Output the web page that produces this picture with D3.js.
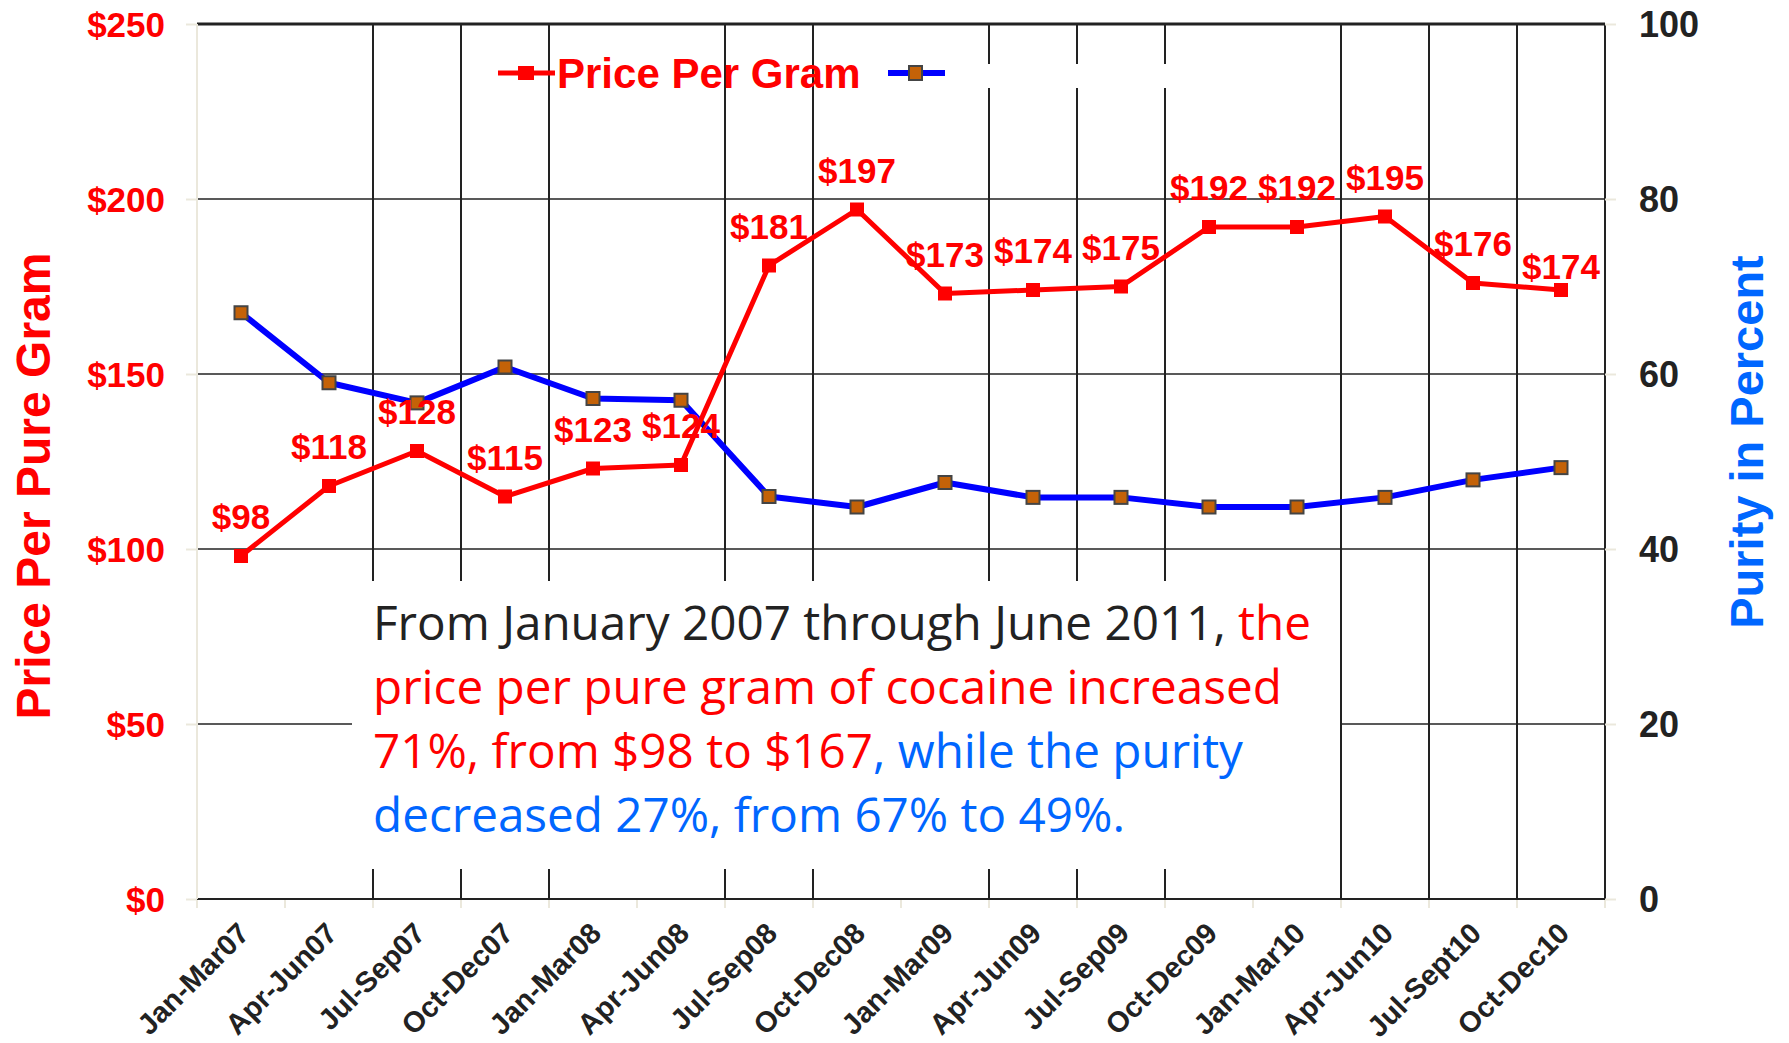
<!DOCTYPE html>
<html lang="en">
<head>
<meta charset="utf-8">
<title>Price per pure gram vs purity</title>
<script src="https://cdn.jsdelivr.net/npm/d3@7"></script>
<style>
  body { margin: 0; background: #fff; }
  svg { display: block; }
  .lbl { font-family: "Liberation Sans", Arial, sans-serif; font-weight: bold; }
  .note { font-family: "Open Sans", sans-serif; font-size: 48px; }
</style>
</head>
<body>
<script>
var categories = ["Jan-Mar07", "Apr-Jun07", "Jul-Sep07", "Oct-Dec07", "Jan-Mar08", "Apr-Jun08",
  "Jul-Sep08", "Oct-Dec08", "Jan-Mar09", "Apr-Jun09", "Jul-Sep09", "Oct-Dec09",
  "Jan-Mar10", "Apr-Jun10", "Jul-Sept10", "Oct-Dec10"];
var price = [98, 118, 128, 115, 123, 124, 181, 197, 173, 174, 175, 192, 192, 195, 176, 174];
var purity = [67, 59, 56.7, 60.8, 57.2, 57, 46, 44.8, 47.6, 45.9, 45.9, 44.8, 44.8, 45.9, 47.9, 49.3];
var priceTicks = [0, 50, 100, 150, 200, 250];
var purityTicks = [0, 20, 40, 60, 80, 100];
// band boundaries that carry a vertical grid line (left edge of these categories)
var gridAt = ["Jul-Sep07", "Oct-Dec07", "Jan-Mar08", "Jul-Sep08", "Oct-Dec08", "Apr-Jun09",
  "Jul-Sep09", "Oct-Dec09", "Apr-Jun10", "Jul-Sept10", "Oct-Dec10"];
var priceName = "Price Per Gram";
var leftTitle = "Price Per Pure Gram";
var rightTitle = "Purity in Percent";
var noteLines = [
  [["From January 2007 through June 2011, ", "#222"], ["the", "#ff0000"]],
  [["price per pure gram of cocaine increased", "#ff0000"]],
  [["71%, from $98 to $167", "#ff0000"], [", while the purity", "#0066ff"]],
  [["decreased 27%, from 67% to 49%.", "#0066ff"]]
];

var W = 1789, H = 1043;
var plot = { left: 197, right: 1605, top: 24, bottom: 899 };

var svg = d3.select("body").append("svg")
  .attr("width", W)
  .attr("height", H);

var x = d3.scaleBand().domain(categories).range([plot.left, plot.right]);
var y = d3.scaleLinear().domain([0, 250]).range([plot.bottom, plot.top]);
var y2 = d3.scaleLinear().domain([0, 100]).range([plot.bottom, plot.top]);
var cx = function(d) { return x(d) + x.bandwidth() / 2; };

// horizontal grid
svg.append("g").selectAll("line")
  .data(priceTicks.slice(1, -1))
  .enter().append("line")
  .attr("x1", plot.left).attr("x2", plot.right)
  .attr("y1", function(d) { return y(d); }).attr("y2", function(d) { return y(d); })
  .attr("stroke", "#222").attr("stroke-width", 1.6);

// vertical grid
svg.append("g").selectAll("line")
  .data(gridAt)
  .enter().append("line")
  .attr("x1", function(d) { return x(d); }).attr("x2", function(d) { return x(d); })
  .attr("y1", plot.top).attr("y2", plot.bottom)
  .attr("stroke", "#222").attr("stroke-width", 2);

// frame
svg.append("line").attr("x1", plot.left).attr("x2", plot.right)
  .attr("y1", plot.top).attr("y2", plot.top)
  .attr("stroke", "#222").attr("stroke-width", 3);
svg.append("line").attr("x1", plot.left).attr("x2", plot.right)
  .attr("y1", plot.bottom).attr("y2", plot.bottom)
  .attr("stroke", "#222").attr("stroke-width", 2);
svg.append("line").attr("x1", plot.right).attr("x2", plot.right)
  .attr("y1", plot.top).attr("y2", plot.bottom)
  .attr("stroke", "#222").attr("stroke-width", 2);

// axes (pale lines and ticks)
var left = svg.append("g")
  .attr("transform", "translate(" + plot.left + ",0)")
  .call(d3.axisLeft(y).tickValues(priceTicks).tickSize(11).tickFormat(""));
var right = svg.append("g")
  .attr("transform", "translate(" + plot.right + ",0)")
  .call(d3.axisRight(y2).tickValues(purityTicks).tickSize(11).tickFormat(""));
[left, right].forEach(function(g) {
  g.selectAll("path").attr("stroke", "#ebe8dc").attr("stroke-width", 2);
  g.selectAll("line").attr("stroke", "#ebe8dc").attr("stroke-width", 2);
});
left.select("path").attr("d", "M0," + plot.top + "V" + plot.bottom);
right.select("path").remove();

// bottom ticks at band boundaries
svg.append("g").selectAll("line")
  .data(categories.concat([null]))
  .enter().append("line")
  .attr("x1", function(d) { return d ? x(d) : plot.right; })
  .attr("x2", function(d) { return d ? x(d) : plot.right; })
  .attr("y1", plot.bottom + 1).attr("y2", plot.bottom + 9)
  .attr("stroke", "#ebe8dc").attr("stroke-width", 2);

// tick labels
svg.append("g").selectAll("text")
  .data(priceTicks)
  .enter().append("text")
  .attr("class", "lbl")
  .attr("x", plot.left - 32)
  .attr("y", function(d) { return y(d); })
  .attr("dy", "0.36em")
  .attr("text-anchor", "end")
  .attr("font-size", 35)
  .attr("fill", "#ff0000")
  .text(function(d) { return "$" + d; });

svg.append("g").selectAll("text")
  .data(purityTicks)
  .enter().append("text")
  .attr("class", "lbl")
  .attr("x", plot.right + 34)
  .attr("y", function(d) { return y2(d); })
  .attr("dy", "0.36em")
  .attr("font-size", 36)
  .attr("fill", "#222")
  .text(function(d) { return d; });

svg.append("g").selectAll("text")
  .data(categories)
  .enter().append("text")
  .attr("class", "lbl")
  .attr("font-size", 29)
  .attr("fill", "#222")
  .attr("text-anchor", "end")
  .attr("transform", function(d) { return "translate(" + (cx(d) + 10) + "," + (plot.bottom + 36) + ") rotate(-45)"; })
  .text(function(d) { return d; });

// axis titles
svg.append("text")
  .attr("class", "lbl")
  .attr("font-size", 48)
  .attr("fill", "#ff0000")
  .attr("text-anchor", "middle")
  .attr("transform", "translate(50,486) rotate(-90)")
  .text(leftTitle);
svg.append("text")
  .attr("class", "lbl")
  .attr("font-size", 47)
  .attr("fill", "#0066ff")
  .attr("text-anchor", "middle")
  .attr("transform", "translate(1763,442) rotate(-90)")
  .text(rightTitle);

// note box (covers the grid)
svg.append("rect")
  .attr("x", 352).attr("y", 581)
  .attr("width", x(categories[13]) - 353).attr("height", 288)
  .attr("fill", "#fff");

// legend
var lg = svg.append("g");
lg.append("line").attr("x1", 498).attr("x2", 555).attr("y1", 73).attr("y2", 73)
  .attr("stroke", "#ff0000").attr("stroke-width", 5);
lg.append("rect").attr("x", 518).attr("y", 66).attr("width", 16).attr("height", 14)
  .attr("fill", "#ff0000");
lg.append("text").attr("class", "lbl").attr("x", 557).attr("y", 88)
  .attr("font-size", 42).attr("fill", "#ff0000").text(priceName);
lg.append("line").attr("x1", 888).attr("x2", 945).attr("y1", 73).attr("y2", 73)
  .attr("stroke", "#0000ff").attr("stroke-width", 6);
lg.append("rect").attr("x", 909).attr("y", 66).attr("width", 13).attr("height", 14)
  .attr("fill", "#c46208").attr("stroke", "#444").attr("stroke-width", 2);
lg.append("rect").attr("x", 984).attr("y", 64).attr("width", 186).attr("height", 24)
  .attr("fill", "#fff");

// series
var purityLine = d3.line()
  .x(function(d, i) { return cx(categories[i]); })
  .y(function(d) { return y2(d); });
var priceLine = d3.line()
  .x(function(d, i) { return cx(categories[i]); })
  .y(function(d) { return y(d); });

svg.append("path").datum(purity)
  .attr("d", purityLine)
  .attr("fill", "none").attr("stroke", "#0000ff").attr("stroke-width", 6)
  .attr("stroke-linejoin", "round");
svg.append("path").datum(price)
  .attr("d", priceLine)
  .attr("fill", "none").attr("stroke", "#ff0000").attr("stroke-width", 5)
  .attr("stroke-linejoin", "round");

svg.append("g").selectAll("rect")
  .data(purity)
  .enter().append("rect")
  .attr("x", function(d, i) { return cx(categories[i]) - 6.5; })
  .attr("y", function(d) { return y2(d) - 6.5; })
  .attr("width", 13).attr("height", 13)
  .attr("fill", "#c46208").attr("stroke", "#444").attr("stroke-width", 2);

svg.append("g").selectAll("rect")
  .data(price)
  .enter().append("rect")
  .attr("x", function(d, i) { return cx(categories[i]) - 7; })
  .attr("y", function(d) { return y(d) - 7; })
  .attr("width", 14).attr("height", 14)
  .attr("fill", "#ff0000");

svg.append("g").selectAll("text")
  .data(price)
  .enter().append("text")
  .attr("class", "lbl")
  .attr("font-size", 35)
  .attr("fill", "#ff0000")
  .attr("text-anchor", "middle")
  .attr("x", function(d, i) { return cx(categories[i]); })
  .attr("y", function(d, i) { return y(d) + (i === price.length - 1 ? -11 : -27); })
  .text(function(d) { return "$" + d; });

// note text, squeezed with textLength to the narrow look of the original face
var note = svg.append("g").attr("class", "note");
var rows = noteLines.map(function(parts, i) {
  var t = note.append("text").attr("x", 373).attr("y", 640 + i * 64);
  parts.forEach(function(p) {
    t.append("tspan").attr("fill", p[1]).text(p[0]);
  });
  return t;
});
var sx = 938 / rows[0].node().getComputedTextLength();
rows.forEach(function(t) {
  var w = t.node().getComputedTextLength();
  t.attr("textLength", w * sx).attr("lengthAdjust", "spacingAndGlyphs");
});
</script>
</body>
</html>
